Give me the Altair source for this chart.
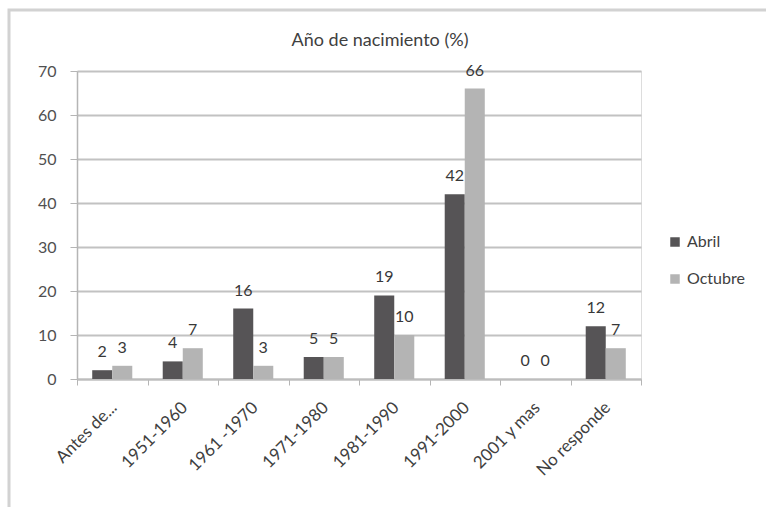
import altair as alt
import pandas as pd

# Año de nacimiento de los encuestados, en porcentaje, por oleada
categorias = ["Antes de...", "1951-1960", "1961 -1970", "1971-1980",
              "1981-1990", "1991-2000", "2001 y mas", "No responde"]
series = ["Abril", "Octubre"]
abril = [2, 4, 16, 5, 19, 42, 0, 12]
octubre = [3, 7, 3, 5, 10, 66, 0, 7]
ticks_y = [0, 10, 20, 30, 40, 50, 60, 70]

filas = []
for serie, valores in zip(series, [abril, octubre]):
    for cat, v in zip(categorias, valores):
        filas.append({"periodo": cat, "serie": serie, "valor": v})
df = pd.DataFrame(filas)

FONT = "Lato"

x_enc = alt.X(
    "periodo:N", sort=categorias, title=None,
    scale=alt.Scale(paddingInner=0, paddingOuter=0),
    axis=alt.Axis(labelAngle=-45, labelFontSize=17, labelColor="#404040",
                  labelFont=FONT, tickBand="extent", tickSize=6,
                  tickColor="#b5b5b5", domainColor="#bdbdbd", domainWidth=2,
                  grid=False, labelPadding=14, labelOffset=-4),
)
xoff_enc = alt.XOffset("serie:N", sort=series,
                       scale=alt.Scale(paddingInner=0, paddingOuter=0.76))
y_enc = alt.Y(
    "valor:Q", title=None,
    scale=alt.Scale(domain=[0, 70], nice=False),
    axis=alt.Axis(values=ticks_y, labelFontSize=16, labelColor="#505050",
                  labelFont=FONT, tickSize=7, tickColor="#b5b5b5",
                  domainColor="#b5b5b5", domainWidth=1.5, gridColor="#c2c2c2",
                  gridWidth=2, labelPadding=14),
)

barras = alt.Chart(df).mark_bar().encode(
    x=x_enc, xOffset=xoff_enc, y=y_enc,
    color=alt.Color(
        "serie:N", sort=series,
        scale=alt.Scale(domain=series, range=["#565456", "#b4b4b4"]),
        legend=alt.Legend(title=None, orient="none", legendX=590, legendY=163,
                          symbolType="square", symbolSize=90, symbolStrokeWidth=0,
                          labelFontSize=16, labelFont=FONT, labelColor="#404040",
                          rowPadding=21, labelOffset=4, padding=0),
    ),
)

etiquetas = alt.Chart(df).mark_text(
    baseline="bottom", dy=-10, fontSize=16, font=FONT, color="#383838"
).encode(x=x_enc, xOffset=xoff_enc, y=y_enc, text=alt.Text("valor:Q"))

# borde gris del área del gráfico
marco = alt.Chart(pd.DataFrame({"k": [0]})).mark_rect(
    fillOpacity=0, stroke="#d2d2d2", strokeWidth=3
).encode(x=alt.value(-68), x2=alt.value(720), y=alt.value(-61), y2=alt.value(520))

chart = alt.layer(marco, barras, etiquetas).properties(
    width=564, height=308,
    title=alt.TitleParams("Año de nacimiento (%)", font=FONT, fontSize=18,
                          fontWeight="normal", color="#404040", anchor="middle",
                          baseline="alphabetic", offset=0, dy=55, dx=21,
                          frame="group"),
    autosize=alt.AutoSizeParams(type="none"),
    padding={"left": 77, "top": 71, "right": 125, "bottom": 128},
).configure_view(stroke=None).configure(background="white")

chart.save("out.html", embed_options={"renderer": "svg", "actions": False})
